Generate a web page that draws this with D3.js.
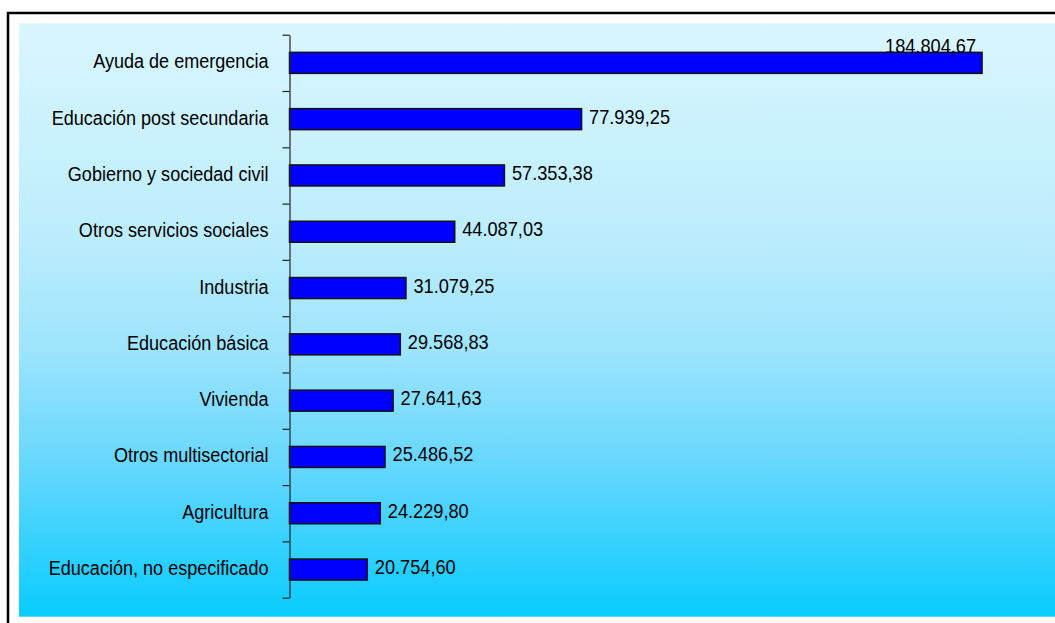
<!DOCTYPE html>
<html>
<head>
<meta charset="utf-8">
<script src="https://cdn.jsdelivr.net/npm/d3@7"></script>
<style>
  html, body { margin: 0; padding: 0; background: #fff; }
  svg { display: block; }
  text { font-family: "Liberation Sans", Arial, sans-serif; fill: #000; }
</style>
</head>
<body>
<svg id="chart" width="1055" height="623"></svg>
<script>
const categories = [
  "Ayuda de emergencia",
  "Educación post secundaria",
  "Gobierno  y sociedad civil",
  "Otros servicios sociales",
  "Industria",
  "Educación básica",
  "Vivienda",
  "Otros multisectorial",
  "Agricultura",
  "Educación, no especificado"
];
const values = [184804.67, 77939.25, 57353.38, 44087.03, 31079.25, 29568.83, 27641.63, 25486.52, 24229.80, 20754.60];
const valueLabels = ["184.804,67", "77.939,25", "57.353,38", "44.087,03", "31.079,25", "29.568,83", "27.641,63", "25.486,52", "24.229,80", "20.754,60"];
const xMax = 200000;

const W = 1055, H = 623;
const svg = d3.select("#chart");

// gradient
const defs = svg.append("defs");
const grad = defs.append("linearGradient").attr("id", "bg").attr("x1", 0).attr("y1", 0).attr("x2", 0).attr("y2", 1);
[[0, "#d9f6fe"], [0.35, "#bdedfc"], [0.55, "#9de4fc"], [0.75, "#64d7fd"], [1, "#08ccff"]]
  .forEach(([o, c]) => grad.append("stop").attr("offset", o).attr("stop-color", c));

// outer frame
svg.append("rect").attr("x", 8).attr("y", 13).attr("width", 1070).attr("height", 640)
  .attr("fill", "none").attr("stroke", "#000").attr("stroke-width", 2.5);

// plot background
svg.append("rect").attr("x", 19).attr("y", 23.3).attr("width", W - 19).attr("height", 616.7 - 23.3)
  .attr("fill", "url(#bg)");

const axisX = 289.5;
const yTop = 34.7, yBot = 597.7;
const x = d3.scaleLinear().domain([0, xMax]).range([axisX, 1039]);
const pad = 0.627;
const y = d3.scaleBand().domain(categories).range([yTop, yBot]).paddingInner(pad).paddingOuter(pad / 2);
const tickScale = d3.scaleLinear().domain([0, categories.length]).range([yTop, yBot]);

// bars
svg.append("g").selectAll("rect").data(values).join("rect")
  .attr("x", x(0))
  .attr("y", (d, i) => y(categories[i]))
  .attr("width", d => x(d) - x(0))
  .attr("height", y.bandwidth())
  .attr("fill", "#0000ff")
  .attr("stroke", "#111")
  .attr("stroke-width", 1.5);

// axis
const axis = d3.axisLeft(tickScale)
  .tickValues(d3.range(0, categories.length + 1))
  .tickFormat("")
  .tickSize(7)
  .tickSizeOuter(0);
const gAxis = svg.append("g").attr("transform", `translate(${axisX},0)`).call(axis);
gAxis.select(".domain").attr("stroke", "#222").attr("stroke-width", 1.2);
gAxis.selectAll(".tick line").attr("stroke", "#222").attr("stroke-width", 1.2);

// category labels
const catSX = 0.86;
svg.append("g").selectAll("text").data(categories).join("text")
  .attr("transform", d => `translate(${axisX - 21},${y(d) + y.bandwidth() / 2 + 5.5}) scale(${catSX},1)`)
  .attr("text-anchor", "end")
  .style("font-size", "21px")
  .text(d => d);

// value labels
const valSX = 0.91;
const gVal = svg.append("g");
values.forEach((v, i) => {
  const t = gVal.append("text").style("font-size", "20px").text(valueLabels[i]);
  const w = t.node().getComputedTextLength() * valSX;
  const end = x(v);
  const cy = y(categories[i]) + y.bandwidth() / 2;
  if (end + 7.5 + w > W - 4) {
    t.attr("text-anchor", "end")
     .attr("transform", `translate(${end - 6},${y(categories[i]) + 1}) scale(${valSX},1)`);
  } else {
    t.attr("text-anchor", "start")
     .attr("transform", `translate(${end + 7.5},${cy + 4.5}) scale(${valSX},1)`);
  }
});
</script>
</body>
</html>
